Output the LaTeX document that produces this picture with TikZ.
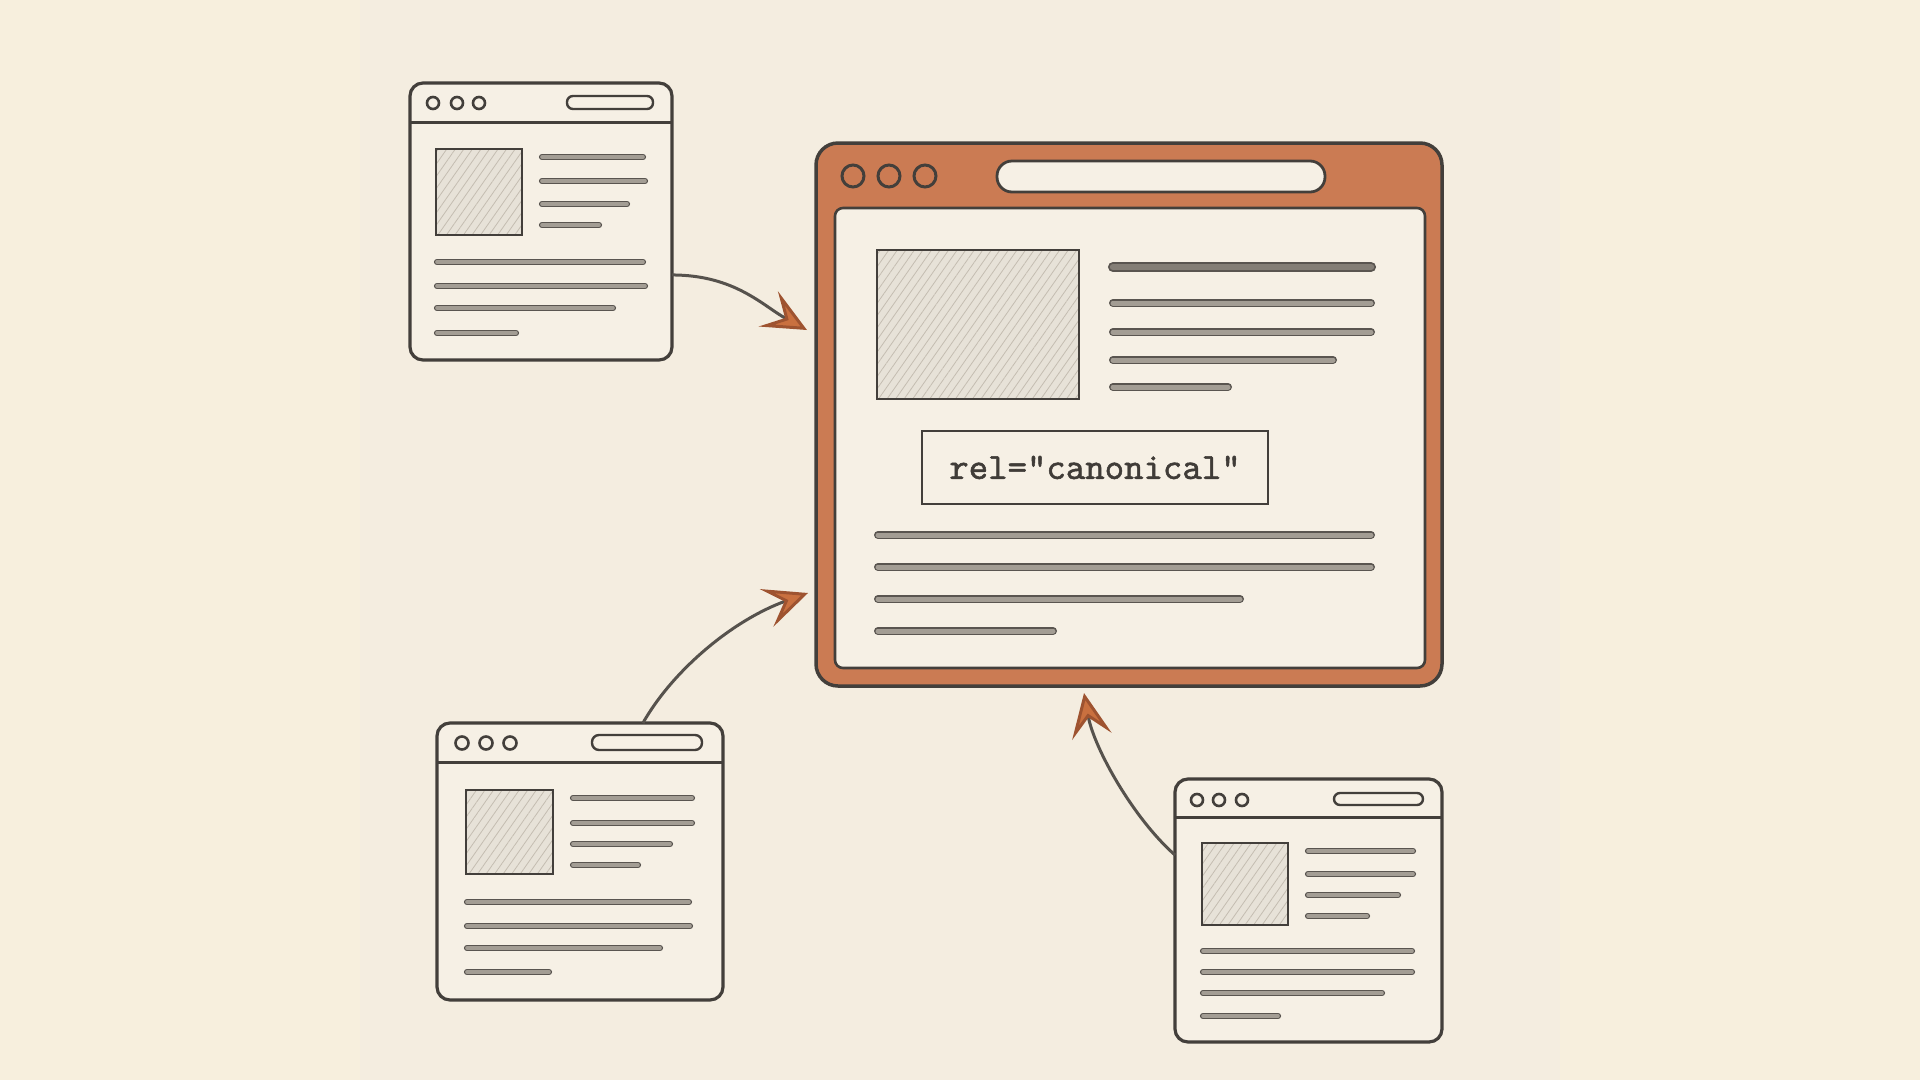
\documentclass[tikz,border=0pt]{standalone}
\usepackage{fontspec}
\newfontfamily\canonfont{lmmono10-regular.otf}[FakeBold=1.3]
\usetikzlibrary{arrows.meta,calc,patterns.meta}
\definecolor{bgout}{HTML}{F7EFDD}
\definecolor{paper}{HTML}{F4EDE0}
\definecolor{winfill}{HTML}{F6F0E5}
\definecolor{ink}{HTML}{433F3B}
\definecolor{orng}{HTML}{CB7B53}
\definecolor{arrowor}{HTML}{C9703F}
\definecolor{arrowdk}{HTML}{9E5330}
\definecolor{barin}{HTML}{A39D94}
\definecolor{bardk}{HTML}{5A5550}
\definecolor{barhead}{HTML}{847E76}
\definecolor{imgfill}{HTML}{E7E2D8}
\definecolor{hatch}{HTML}{C4BDB1}
\definecolor{curve}{HTML}{56524D}
\definecolor{txtcol}{HTML}{403C38}
\begin{document}
\begin{tikzpicture}[x=1pt,y=-1pt,
  smallwin/.style={rectangle,draw=ink,line width=3.2pt,fill=winfill,rounded corners=13pt,inner sep=0pt,outer sep=0pt},
  mainwin/.style={rectangle,draw=ink,line width=3.5pt,fill=orng,rounded corners=22pt,inner sep=0pt,outer sep=0pt},
  sepline/.style={draw=ink,line width=3pt},
  wdot/.style={draw=ink,line width=2.6pt,fill=winfill},
  mdot/.style={draw=ink,line width=3pt,fill=orng},
  addr/.style={draw=ink,line width=2.4pt,fill=winfill},
  imgbox/.style={preaction={fill=imgfill},pattern={Lines[angle=55,distance=7pt,line width=0.8pt]},pattern color=hatch,draw=ink,line width=2.6pt},
  sbar/.style={line cap=round,draw=bardk,line width=1.3pt,double=barin,double distance=3.6pt},
  mbar/.style={line cap=round,draw=bardk,line width=1.5pt,double=barin,double distance=5pt},
  hbar/.style={line cap=round,draw=bardk,line width=1.8pt,double=barhead,double distance=6.5pt},
  canonbox/.style={rectangle,draw=ink,line width=2.4pt,minimum width=346pt,minimum height=73pt,inner sep=0pt,text=txtcol,font=\fontsize{37}{40}\selectfont\canonfont},
  conn/.style={draw=curve,line width=3pt,-{Stealth[length=44pt,width=40pt,inset=19pt,color=arrowdk,fill=arrowor]}}
]
\useasboundingbox (0,0) rectangle (1920,1080);
\fill[bgout] (0,0) rectangle (1920,1080);
\fill[paper] (360,0) rectangle (1560,1080);

% ---------- main window ----------
\node[mainwin,minimum width=626pt,minimum height=543pt] (main) at (1129,414.5) {};
\draw[draw=ink,line width=2.6pt,fill=winfill,rounded corners=8pt] (835,208) rectangle (1425,668);
\foreach \x in {853,889,925} \draw[mdot] (\x,176) circle (11);
\draw[addr,line width=2.8pt,rounded corners=15pt] (997,161) rectangle (1325,192);
\draw[imgbox] (877,250) rectangle (1079,399);
\draw[hbar] (1113,267) -- (1371,267);
\draw[mbar] (1113,303) -- (1371,303);
\draw[mbar] (1113,332) -- (1371,332);
\draw[mbar] (1113,360) -- (1333,360);
\draw[mbar] (1113,387) -- (1228,387);
\node[canonbox] (canon) at (1095,467.5) {rel="canonical"};
\draw[mbar] (878,535) -- (1371,535);
\draw[mbar] (878,567) -- (1371,567);
\draw[mbar] (878,599) -- (1240,599);
\draw[mbar] (878,631) -- (1053,631);

% ---------- window A ----------
\node[smallwin,minimum width=262pt,minimum height=277pt] (wa) at (541,221.5) {};
\draw[sepline] (410,122) -- (672,122);
\foreach \x in {433,457,479} \draw[wdot] (\x,103) circle (6);
\draw[addr,rounded corners=6pt] (567,96) rectangle (653,109);
\draw[imgbox] (436,149) rectangle (522,235);
\draw[sbar] (542,157) -- (643,157);
\draw[sbar] (542,181) -- (645,181);
\draw[sbar] (542,204) -- (627,204);
\draw[sbar] (542,225) -- (599,225);
\draw[sbar] (437,262) -- (643,262);
\draw[sbar] (437,286) -- (645,286);
\draw[sbar] (437,308) -- (613,308);
\draw[sbar] (437,333) -- (516,333);

% ---------- window B ----------
\node[smallwin,minimum width=286pt,minimum height=277pt] (wb) at (580,861.5) {};
\draw[sepline] (437,762) -- (723,762);
\foreach \x in {462,486,510} \draw[wdot] (\x,743) circle (6.5);
\draw[addr,rounded corners=7pt] (592,735) rectangle (702,750);
\draw[imgbox] (466,790) rectangle (553,874);
\draw[sbar] (573,798) -- (692,798);
\draw[sbar] (573,823) -- (692,823);
\draw[sbar] (573,844) -- (670,844);
\draw[sbar] (573,865) -- (638,865);
\draw[sbar] (467,902) -- (689,902);
\draw[sbar] (467,926) -- (690,926);
\draw[sbar] (467,948) -- (660,948);
\draw[sbar] (467,972) -- (549,972);

% ---------- window C ----------
\node[smallwin,minimum width=267pt,minimum height=263pt] (wc) at (1308.5,910.5) {};
\draw[sepline] (1175,817) -- (1442,817);
\foreach \x in {1197,1219,1242} \draw[wdot] (\x,800) circle (6);
\draw[addr,rounded corners=6pt] (1334,793) rectangle (1423,805);
\draw[imgbox] (1202,843) rectangle (1288,925);
\draw[sbar] (1308,851) -- (1413,851);
\draw[sbar] (1308,874) -- (1413,874);
\draw[sbar] (1308,895) -- (1398,895);
\draw[sbar] (1308,916) -- (1367,916);
\draw[sbar] (1203,951) -- (1412,951);
\draw[sbar] (1203,972) -- (1412,972);
\draw[sbar] (1203,993) -- (1382,993);
\draw[sbar] (1203,1016) -- (1278,1016);

% ---------- connectors ----------
\coordinate (t1) at (807,330);
\coordinate (t2) at (808,593);
\coordinate (t3) at (1084,693);
\draw[conn] ($(wa.north east)!0.693!(wa.south east)$) .. controls (735,275) and (763,306) .. (t1);
\draw[conn] ($(wb.north west)!0.72!(wb.north east)$) .. controls (673,670) and (733,620) .. (t2);
\draw[conn] ($(wc.north west)!0.289!(wc.south west)$) .. controls (1133,818) and (1094,748) .. (t3);
\end{tikzpicture}
\end{document}
